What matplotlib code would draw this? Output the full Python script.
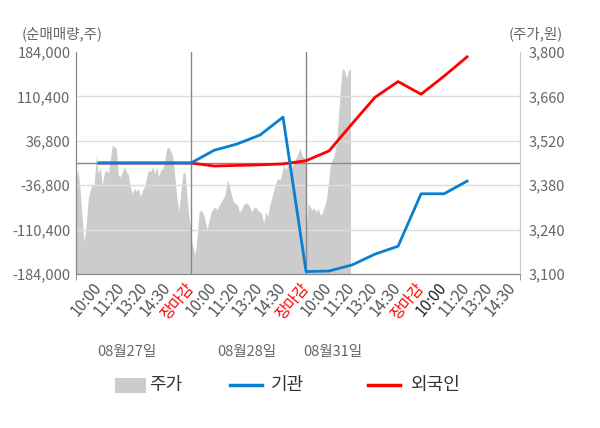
import numpy as np
import matplotlib
matplotlib.use("Agg")
import matplotlib.pyplot as plt
from matplotlib.lines import Line2D
from matplotlib.patches import Rectangle
from matplotlib.ticker import FuncFormatter

plt.rcParams["font.family"] = ["Noto Sans CJK KR", "DejaVu Sans"]

# x tick labels (one slot each), day labels
tick_labels = ["10:00", "11:20", "13:20", "14:30", "장마감",
               "10:00", "11:20", "13:20", "14:30", "장마감",
               "10:00", "11:20", "13:20", "14:30", "장마감",
               "10:00", "11:20", "13:20", "14:30"]
tick_colors = ["#555555"] * 4 + ["#ff0000"] + ["#555555"] * 4 + ["#ff0000"] \
    + ["#555555"] * 4 + ["#ff0000"] + ["#222222"] + ["#555555"] * 3
day_labels = ["08월27일", "08월28일", "08월31일"]

# net buying (shares) per slot, slot 1..17
slots = list(range(1, 18))
inst = [0, 0, 0, 0, 0, 21000, 31500, 46400, 76000, -180000, -179000,
        -169000, -151000, -138000, -51000, -51000, -30000]
foreign = [0, 0, 0, 0, 0, -5000, -4000, -3000, -1500, 3800, 20000,
           65000, 109000, 135000, 114000, 144000, 176000]

# intraday price (won), sampled evenly over each day
price_d1 = [3391, 3433, 3365, 3281, 3202, 3249, 3333, 3365, 3381, 3381,
            3472, 3417, 3438, 3381, 3417, 3428, 3417, 3459, 3507, 3501,
            3496, 3412, 3407, 3423, 3438, 3423, 3412, 3370, 3354, 3370,
            3360, 3370, 3344, 3365, 3375, 3407, 3428, 3423, 3438, 3417,
            3438, 3407, 3428, 3433, 3459, 3496, 3501, 3486, 3470, 3407,
            3339, 3296, 3365, 3417, 3423, 3344, 3276, 3244]
price_d2 = [3212, 3186, 3160, 3218, 3296, 3302, 3291, 3270, 3239, 3270,
            3296, 3307, 3312, 3302, 3318, 3328, 3339, 3354, 3396, 3381,
            3349, 3328, 3323, 3318, 3296, 3302, 3318, 3323, 3323, 3312,
            3296, 3307, 3312, 3302, 3296, 3291, 3260, 3296, 3281, 3318,
            3339, 3365, 3386, 3402, 3396, 3417, 3444, 3428, 3444, 3454,
            3438, 3449, 3465, 3480, 3496, 3475, 3465, 3465]
price_d3 = [3240, 3323, 3312, 3302, 3307, 3296, 3307, 3286, 3291, 3312,
            3333, 3381, 3444, 3460, 3475, 3510, 3591, 3680, 3749, 3743,
            3717, 3740, 3749]

left_ticks = [-184000, -110400, -36800, 36800, 110400, 184000]
right_ticks = [3100, 3240, 3380, 3520, 3660, 3800]

W, H = 600, 428
fig = plt.figure(figsize=(6, 4.28), dpi=100)
ax = fig.add_axes([76 / W, 1 - 274 / H, 444 / W, 222 / H])
ax2 = ax.twinx()
ax.set_zorder(ax2.get_zorder() + 1)
ax.patch.set_visible(False)
ax2.set_facecolor("#f4f4f4")

# price area
step = 5 / (len(price_d1) - 1)
for d, prices in enumerate([price_d1, price_d2, price_d3]):
    xs = d * 5 + np.arange(len(prices)) * step
    ax2.fill_between(xs, prices, 3100, color="#cccccc", lw=0)
ax2.set_ylim(3100, 3800)
ax2.set_yticks(right_ticks)
ax2.yaxis.set_major_formatter(FuncFormatter(lambda v, p: f"{int(v):,}"))

# grid, zero line, day separators on top axis
for t in left_ticks[1:-1]:
    ax.axhline(t, color="#dddddd", lw=1, zorder=1)
ax.axhline(0, color="#888888", lw=1, zorder=1)
for xv in [5, 10]:
    ax.axvline(xv, color="#888888", lw=1, zorder=1)

ax.plot(slots, foreign, color="#ff0000", lw=2, zorder=3)
ax.plot(slots, inst, color="#0a7fcf", lw=2, zorder=4)

ax.set_xlim(0, 19.3)
ax.set_ylim(-184000, 184000)
ax.set_yticks(left_ticks)
ax.yaxis.set_major_formatter(FuncFormatter(lambda v, p: f"{int(v):,}"))

ax.set_xticks(range(1, 20))
ax.set_xticklabels(tick_labels, rotation=50, ha="right", va="center",
                   rotation_mode="anchor")
for lbl, c in zip(ax.get_xticklabels(), tick_colors):
    lbl.set_color(c)
ax.tick_params(axis="x", length=0, pad=8, labelsize=11)
ax.set_xticks([0, 5, 10, 19.3], minor=True)
ax.tick_params(axis="x", which="minor", length=4, color="#888888")
ax.tick_params(axis="y", length=0, labelsize=10.5, labelcolor="#666666", pad=4)
ax2.tick_params(axis="y", length=0, labelsize=10.5, labelcolor="#666666", pad=6)

for a in (ax, ax2):
    a.spines["top"].set_visible(False)
    a.spines["left"].set_color("#888888")
    a.spines["bottom"].set_color("#888888")
    a.spines["right"].set_color("#cccccc")

fig.text(22 / W, 1 - 34 / H, "(순매매량,주)", fontsize=10.5, color="#666666",
         va="center", ha="left")
fig.text(563 / W, 1 - 34 / H, "(주가,원)", fontsize=10.5, color="#666666",
         va="center", ha="right")

for lbl, xc in zip(day_labels, [127, 247, 333]):
    fig.text(xc / W, 1 - 352 / H, lbl, fontsize=10.5, color="#666666",
             ha="center", va="center")

# legend drawn by hand to match spacing
ly = 1 - 385 / H
fig.add_artist(Rectangle((115 / W, 1 - 393 / H), 31 / W, 15 / H,
                         facecolor="#cccccc", edgecolor="none",
                         transform=fig.transFigure))
fig.text(149 / W, ly, "주가", fontsize=13, color="#333333", va="center")
fig.add_artist(Line2D([230 / W, 262 / W], [ly, ly], color="#0a7fcf", lw=2.5,
                      transform=fig.transFigure))
fig.text(271 / W, ly, "기관", fontsize=13, color="#333333", va="center")
fig.add_artist(Line2D([368 / W, 400 / W], [ly, ly], color="#ff0000", lw=2.5,
                      transform=fig.transFigure))
fig.text(410 / W, ly, "외국인", fontsize=13, color="#333333", va="center")

fig.savefig("out.png", dpi=100)
